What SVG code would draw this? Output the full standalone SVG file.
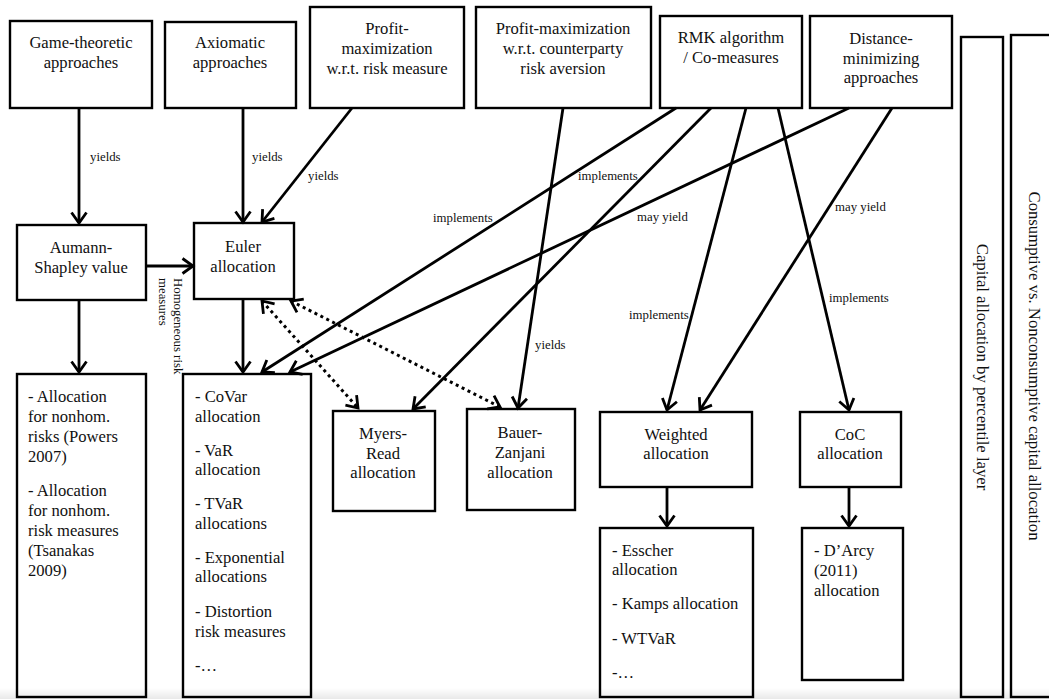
<svg xmlns="http://www.w3.org/2000/svg" width="1049" height="699" viewBox="0 0 1049 699">
<style>
.box{fill:none;stroke:#000;stroke-width:2.4}
.t{font-family:"Liberation Serif","Times New Roman",serif;font-size:16.6px;fill:#111}
.c{text-anchor:middle}
.lbl{font-family:"Liberation Serif","Times New Roman",serif;font-size:12.8px;fill:#111}
.rot{font-family:"Liberation Serif","Times New Roman",serif;font-size:16.7px;fill:#111;text-anchor:middle}
.ln{fill:none;stroke:#000;stroke-width:2.8;marker-end:url(#ah)}
.dot{fill:none;stroke:#000;stroke-width:3;stroke-dasharray:3 3.6;marker-end:url(#ah);marker-start:url(#ah)}
</style>
<defs>
<marker id="ah" markerUnits="userSpaceOnUse" viewBox="-15 -11 20 22" markerWidth="20" markerHeight="22" refX="0" refY="0" orient="auto-start-reverse">
<path d="M-10.5,-7.5 L0,0 L-10.5,7.5" fill="none" stroke="#000" stroke-width="2.8" stroke-linejoin="miter"/>
</marker>
<linearGradient id="bg" x1="0" y1="0" x2="0" y2="1">
<stop offset="0" stop-color="#fff"/>
<stop offset="1" stop-color="#e9e9e9"/>
</linearGradient>
</defs>
<rect x="0" y="0" width="1049" height="699" fill="#fff"/>
<rect x="0" y="688" width="1049" height="11" fill="url(#bg)"/>

<g id="connectors">
<line class="ln" x1="79" y1="108" x2="79" y2="223"/>
<line class="ln" x1="243" y1="108" x2="243" y2="222"/>
<line class="ln" x1="352" y1="108" x2="262" y2="222"/>
<line class="ln" x1="146" y1="266" x2="193" y2="266"/>
<line class="ln" x1="79" y1="300" x2="79" y2="372"/>
<line class="ln" x1="243" y1="299" x2="243" y2="372"/>
<line class="ln" x1="563" y1="108" x2="518" y2="408"/>
<line class="ln" x1="676" y1="108" x2="262" y2="372"/>
<line class="ln" x1="711" y1="108" x2="413" y2="409"/>
<line class="ln" x1="746" y1="108" x2="667" y2="410"/>
<line class="ln" x1="778" y1="108" x2="849" y2="410"/>
<line class="ln" x1="849" y1="108" x2="290" y2="372"/>
<line class="ln" x1="892" y1="108" x2="700" y2="410"/>
<line class="ln" x1="667" y1="487" x2="667" y2="526"/>
<line class="ln" x1="849" y1="487" x2="849" y2="526"/>
<line class="dot" x1="262" y1="301" x2="358" y2="408"/>
<line class="dot" x1="291" y1="301" x2="500" y2="407"/>
<text class="lbl" x="90" y="161">yields</text>
<text class="lbl" x="252" y="161">yields</text>
<text class="lbl" x="308" y="180">yields</text>
<text class="lbl" x="433" y="222">implements</text>
<text class="lbl" x="578" y="180">implements</text>
<text class="lbl" x="637" y="221">may yield</text>
<text class="lbl" x="835" y="211">may yield</text>
<text class="lbl" x="629" y="319">implements</text>
<text class="lbl" x="829" y="302">implements</text>
<text class="lbl" x="535" y="349">yields</text>
<g transform="translate(174,278) rotate(90)">
<text class="lbl" x="0" y="0">Homogeneous risk</text>
<text class="lbl" x="0" y="15">measures</text>
</g>
</g>

<g id="game-theoretic">
<rect class="box" x="10" y="21" width="142" height="87"/>
<text class="t c" x="81" y="48">Game-theoretic</text>
<text class="t c" x="81" y="68">approaches</text>
</g>
<g id="axiomatic">
<rect class="box" x="165" y="22" width="131" height="86"/>
<text class="t c" x="230" y="48">Axiomatic</text>
<text class="t c" x="230" y="68">approaches</text>
</g>
<g id="profit-risk">
<rect class="box" x="310" y="7" width="154" height="101"/>
<text class="t c" x="387" y="34">Profit-</text>
<text class="t c" x="387" y="54">maximization</text>
<text class="t c" x="387" y="74">w.r.t. risk measure</text>
</g>
<g id="profit-counterparty">
<rect class="box" x="476" y="7" width="175" height="101"/>
<text class="t c" x="563" y="34">Profit-maximization</text>
<text class="t c" x="563" y="54">w.r.t. counterparty</text>
<text class="t c" x="563" y="74">risk aversion</text>
</g>
<g id="rmk">
<rect class="box" x="660" y="16" width="142" height="92"/>
<text class="t c" x="731" y="43">RMK algorithm</text>
<text class="t c" x="731" y="63">/ Co-measures</text>
</g>
<g id="distance">
<rect class="box" x="810" y="16" width="142" height="92"/>
<text class="t c" x="881" y="44">Distance-</text>
<text class="t c" x="881" y="64">minimizing</text>
<text class="t c" x="881" y="83">approaches</text>
</g>
<g id="aumann">
<rect class="box" x="17" y="225" width="129" height="75"/>
<text class="t c" x="81" y="253">Aumann-</text>
<text class="t c" x="81" y="273">Shapley value</text>
</g>
<g id="euler">
<rect class="box" x="194" y="223" width="100" height="76"/>
<text class="t c" x="243" y="252">Euler</text>
<text class="t c" x="243" y="272">allocation</text>
</g>
<g id="nonhom">
<rect class="box" x="17" y="374" width="129" height="323"/>
<text class="t" x="28" y="402">- Allocation</text>
<text class="t" x="28" y="422">for nonhom.</text>
<text class="t" x="28" y="442">risks (Powers</text>
<text class="t" x="28" y="462">2007)</text>
<text class="t" x="28" y="496">- Allocation</text>
<text class="t" x="28" y="516">for nonhom.</text>
<text class="t" x="28" y="536">risk measures</text>
<text class="t" x="28" y="556">(Tsanakas</text>
<text class="t" x="28" y="576">2009)</text>
</g>
<g id="covar">
<rect class="box" x="183" y="374" width="128" height="323"/>
<text class="t" x="195" y="402">- CoVar</text>
<text class="t" x="195" y="422">allocation</text>
<text class="t" x="195" y="456">- VaR</text>
<text class="t" x="195" y="475">allocation</text>
<text class="t" x="195" y="509">- TVaR</text>
<text class="t" x="195" y="529">allocations</text>
<text class="t" x="195" y="563">- Exponential</text>
<text class="t" x="195" y="582">allocations</text>
<text class="t" x="195" y="617">- Distortion</text>
<text class="t" x="195" y="637">risk measures</text>
<text class="t" x="195" y="671">-…</text>
</g>
<g id="myers-read">
<rect class="box" x="333" y="411" width="102" height="100"/>
<text class="t c" x="383" y="439">Myers-</text>
<text class="t c" x="383" y="459">Read</text>
<text class="t c" x="383" y="478">allocation</text>
</g>
<g id="bauer-zanjani">
<rect class="box" x="467" y="409" width="108" height="101"/>
<text class="t c" x="520" y="438">Bauer-</text>
<text class="t c" x="520" y="458">Zanjani</text>
<text class="t c" x="520" y="478">allocation</text>
</g>
<g id="weighted">
<rect class="box" x="600" y="412" width="152" height="75"/>
<text class="t c" x="676" y="440">Weighted</text>
<text class="t c" x="676" y="459">allocation</text>
</g>
<g id="coc">
<rect class="box" x="800" y="412" width="101" height="75"/>
<text class="t c" x="850" y="440">CoC</text>
<text class="t c" x="850" y="459">allocation</text>
</g>
<g id="esscher">
<rect class="box" x="600" y="528" width="153" height="169"/>
<text class="t" x="612" y="556">- Esscher</text>
<text class="t" x="612" y="575">allocation</text>
<text class="t" x="612" y="609">- Kamps allocation</text>
<text class="t" x="612" y="644">- WTVaR</text>
<text class="t" x="612" y="678">-…</text>
</g>
<g id="darcy">
<rect class="box" x="802" y="528" width="101" height="152"/>
<text class="t" x="814" y="556">- D’Arcy</text>
<text class="t" x="814" y="576">(2011)</text>
<text class="t" x="814" y="596">allocation</text>
</g>
<g id="percentile">
<rect class="box" x="961" y="37" width="42" height="660"/>
<text class="rot" transform="translate(977,367) rotate(90)">Capital allocation by percentile layer</text>
</g>
<g id="consumptive">
<rect class="box" x="1011" y="35" width="46" height="662"/>
<text class="rot" transform="translate(1029,366) rotate(90)">Consumptive vs. Nonconsumptive capital allocation</text>
</g>
</svg>
